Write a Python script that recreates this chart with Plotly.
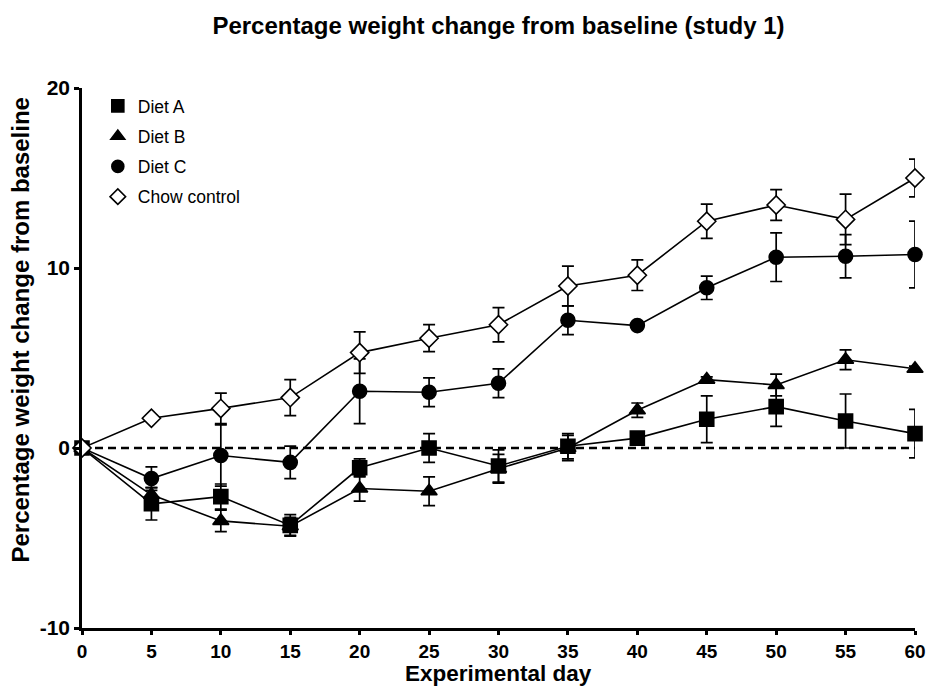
import plotly.graph_objects as go

days = [0, 5, 10, 15, 20, 25, 30, 35, 40, 45, 50, 55, 60]

diet_a = [0, -3.1, -2.7, -4.3, -1.1, 0.0, -1.0, 0.1, 0.55, 1.6, 2.3, 1.5, 0.8]
diet_a_err = [0, 0.9, 0.7, 0.6, 0.5, 0.8, 0.9, 0.7, 0.2, 1.3, 1.1, 1.5, 1.35]

diet_b = [0, -2.6, -4.05, -4.35, -2.25, -2.4, -1.15, 0.0, 2.1, 3.8, 3.5, 4.9, 4.4]
diet_b_err = [0, 0.4, 0.6, 0.5, 0.7, 0.8, 0.8, 0.7, 0.4, 0.15, 0.6, 0.55, 0.15]

diet_c = [0, -1.7, -0.42, -0.8, 3.15, 3.1, 3.6, 7.1, 6.8, 8.9, 10.6, 10.65, 10.75]
diet_c_err = [0, 0.65, 1.7, 0.9, 1.8, 0.8, 0.8, 0.8, 0.2, 0.65, 1.35, 1.2, 1.85]

chow = [0, 1.65, 2.2, 2.8, 5.3, 6.1, 6.85, 9.0, 9.6, 12.6, 13.5, 12.7, 15.0]
chow_err = [0, 0.15, 0.85, 1.0, 1.15, 0.75, 0.95, 1.1, 0.85, 0.95, 0.85, 1.4, 1.05]

names = ["Diet A", "Diet B", "Diet C", "Chow control"]
values = [diet_a, diet_b, diet_c, chow]
errors = [diet_a_err, diet_b_err, diet_c_err, chow_err]
symbols = ["square", "triangle-up", "circle", "diamond"]
fills = ["black", "black", "black", "white"]

y_ticks = [-10, 0, 10, 20]
y_tick_labels = ["-10", "0", "10", "20"]
x_ticks = days

FONT = "Liberation Sans, Arial, sans-serif"

fig = go.Figure()
for name, vals, errs, sym, fill in zip(names, values, errors, symbols, fills):
    fig.add_trace(go.Scatter(
        x=days, y=vals, name=name, mode="lines+markers", showlegend=False,
        line=dict(color="black", width=1.6),
        marker=dict(symbol=sym, size=14, color=fill,
                    line=dict(color="black", width=1.6)),
        error_y=dict(type="data", array=errs, visible=True, color="black",
                     thickness=1.7, width=6),
        cliponaxis=False,
    ))

# legend entries (markers only)
for name, sym, fill in zip(names, symbols, fills):
    fig.add_trace(go.Scatter(
        x=[None], y=[None], name=name, mode="markers", legendgroup=name,
        marker=dict(symbol=sym, size=12, color=fill,
                    line=dict(color="black", width=1.6)),
    ))

fig.add_hline(y=0, line=dict(color="black", width=2.5, dash="8px,5px"), layer="below")

fig.add_annotation(text="<b>Percentage weight change from baseline</b>",
                   xref="paper", yref="paper", x=(19 - 82) / 840, y=(628 - 330) / 540,
                   xanchor="center", yanchor="middle", textangle=-90, showarrow=False,
                   font=dict(family=FONT, size=24, color="black"))
fig.add_annotation(text="<b>Experimental day</b>",
                   xref="paper", yref="paper", x=0.5, y=(628 - 688) / 540,
                   xanchor="center", yanchor="bottom", showarrow=False,
                   font=dict(family=FONT, size=22.5, color="black"))

fig.update_layout(
    width=938, height=688,
    margin=dict(l=82, r=16, t=88, b=60),
    plot_bgcolor="white", paper_bgcolor="white",
    font=dict(family=FONT, color="black"),
    title=dict(text="Percentage weight change from baseline (study 1)",
               font=dict(family=FONT, size=24, weight="bold", color="black"),
               x=0.5, xref="paper", xanchor="center",
               y=1 - 26 / 688, yref="container", yanchor="middle"),
    showlegend=True,
    legend=dict(x=0.019, y=1.0, xanchor="left", yanchor="top",
                font=dict(family=FONT, size=17.5, color="black"),
                bgcolor="rgba(0,0,0,0)", itemwidth=30, tracegroupgap=4.5,
                traceorder="grouped"),
    xaxis=dict(range=[0, 60], tickmode="array", tickvals=x_ticks,
               showline=True, linecolor="black", linewidth=2.5,
               ticks="outside", ticklen=4, tickwidth=2.5, tickcolor="black",
               showgrid=False, zeroline=False,
               tickfont=dict(family=FONT, size=19, weight="bold", color="black")),
    yaxis=dict(range=[-10, 20], tickmode="array", tickvals=y_ticks,
               ticktext=y_tick_labels,
               showline=True, linecolor="black", linewidth=2.5,
               ticks="outside", ticklen=5, tickwidth=2.5, tickcolor="black",
               showgrid=False, zeroline=False,
               tickfont=dict(family=FONT, size=21, weight="bold", color="black")),
)

fig.write_html("out.html")
